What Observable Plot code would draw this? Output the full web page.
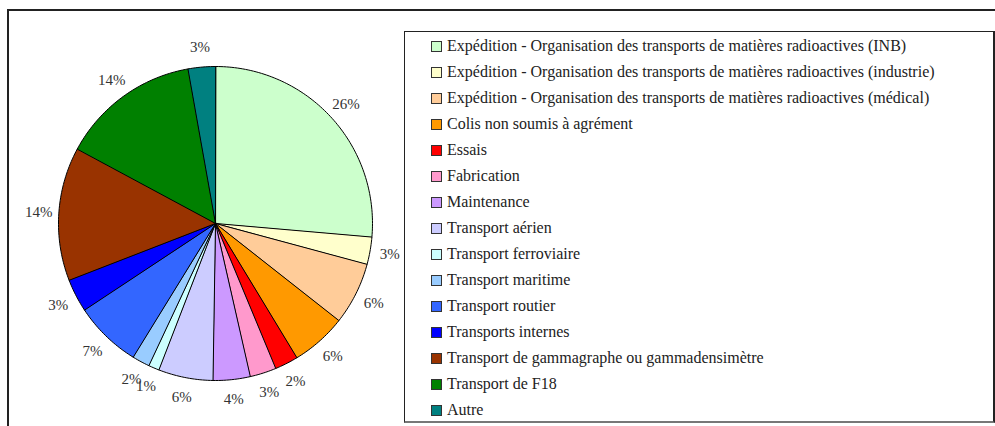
<!DOCTYPE html>
<html><head><meta charset="utf-8">
<script src="https://cdn.jsdelivr.net/npm/d3@7"></script>
<script src="https://cdn.jsdelivr.net/npm/@observablehq/plot@0.6"></script>
<style>
html,body{margin:0;padding:0;background:#fff;}
#wrap{position:relative;width:995px;height:426px;overflow:hidden;font-family:"Times New Roman","Liberation Serif","DejaVu Serif","Noto Serif",Times,serif;}
#frame{position:absolute;left:7px;top:9px;width:1000px;height:500px;border-left:2px solid #222;border-top:2px solid #222;}
#pie{position:absolute;left:0;top:0;}
#legend{position:absolute;left:404px;top:31px;width:588px;height:389px;border-left:1px solid #222;border-top:1px solid #222;border-right:2px solid #222;border-bottom:2px solid #777;background:#fff;}
.item{position:absolute;left:26px;height:20px;display:flex;align-items:center;font-size:16px;color:#222;white-space:nowrap;}
.sw{width:9px;height:9px;border:1px solid #333;margin-right:5px;flex:none;}
</style></head>
<body>
<div id="wrap"><div id="frame"></div><div id="pie"></div><div id="legend"></div></div>
<script>
const categories = [
  "Expédition - Organisation des transports de matières radioactives (INB)",
  "Expédition - Organisation des transports de matières radioactives (industrie)",
  "Expédition - Organisation des transports de matières radioactives (médical)",
  "Colis non soumis à agrément",
  "Essais",
  "Fabrication",
  "Maintenance",
  "Transport aérien",
  "Transport ferroviaire",
  "Transport maritime",
  "Transport routier",
  "Transports internes",
  "Transport de gammagraphe ou gammadensimètre",
  "Transport de F18",
  "Autre"
];
const values = [26.3, 2.8, 6.4, 5.7, 2.4, 2.7, 3.8, 5.6, 1.1, 1.8, 6.9, 3.4, 13.7, 14.3, 2.8];
const colors = ["#CCFFCC","#FFFFCC","#FFCC99","#FF9900","#FF0000","#FF99CC","#CC99FF","#CCCCFF","#CCFFFF","#99CCFF","#3366FF","#0000FF","#993300","#008000","#008080"];

const R = 157, RL = 177;
const total = d3.sum(values);
const rows = [], labels = [];
let acc = 0;
categories.forEach((c, i) => {
  const a0 = acc / total * 2 * Math.PI;
  acc += values[i];
  const a1 = acc / total * 2 * Math.PI;
  rows.push({c, x: 0, y: 0});
  const n = Math.max(2, Math.ceil((a1 - a0) / (Math.PI / 180)));
  for (let k = 0; k <= n; k++) {
    const a = a0 + (a1 - a0) * k / n;
    rows.push({c, x: R * Math.sin(a), y: R * Math.cos(a)});
  }
  const am = (a0 + a1) / 2;
  labels.push({x: RL * Math.sin(am), y: RL * Math.cos(am), t: Math.round(values[i] / total * 100) + "%"});
});

const chart = Plot.plot({
  width: 400, height: 426, margin: 0,
  x: {domain: [-215, 185], axis: null},
  y: {domain: [-203, 223], axis: null},
  color: {domain: categories, range: colors},
  style: {background: "transparent", fontFamily: "'Times New Roman', 'Liberation Serif', 'DejaVu Serif', 'Noto Serif', Times, serif"},
  marks: [
    Plot.line(rows, {x: "x", y: "y", z: "c", fill: "c", stroke: "#000", strokeWidth: 1, curve: "linear-closed"}),
    Plot.text(labels, {x: "x", y: "y", text: "t", fontSize: 15, fill: "#333"})
  ]
});
document.getElementById("pie").appendChild(chart);

const leg = document.getElementById("legend");
categories.forEach((c, i) => {
  const it = document.createElement("div");
  it.className = "item";
  it.style.top = (4 + 26 * i) + "px";
  const sw = document.createElement("span");
  sw.className = "sw";
  sw.style.background = colors[i];
  it.appendChild(sw);
  it.appendChild(document.createTextNode(c));
  leg.appendChild(it);
});
</script>
</body></html>
